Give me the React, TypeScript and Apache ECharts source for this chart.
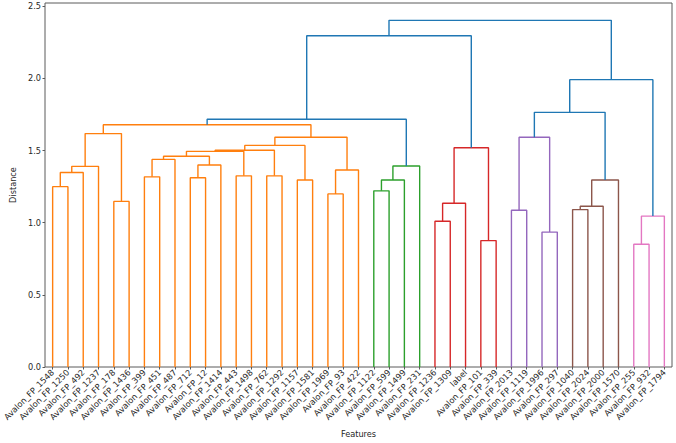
import React, { useEffect, useRef } from "react";
import * as echarts from "echarts";

// Leaves in dendrogram order (left to right)
const leafLabels = [
  "Avalon_FP_1548", "Avalon_FP_1250", "Avalon_FP_492", "Avalon_FP_1237", "Avalon_FP_178",
  "Avalon_FP_1436", "Avalon_FP_399", "Avalon_FP_451", "Avalon_FP_487", "Avalon_FP_712",
  "Avalon_FP_12", "Avalon_FP_1414", "Avalon_FP_443", "Avalon_FP_1498", "Avalon_FP_762",
  "Avalon_FP_1292", "Avalon_FP_1157", "Avalon_FP_1581", "Avalon_FP_1969", "Avalon_FP_93",
  "Avalon_FP_422", "Avalon_FP_1122", "Avalon_FP_599", "Avalon_FP_1499", "Avalon_FP_231",
  "Avalon_FP_1236", "Avalon_FP_1309", "label", "Avalon_FP_101", "Avalon_FP_339",
  "Avalon_FP_2013", "Avalon_FP_1119", "Avalon_FP_1996", "Avalon_FP_297", "Avalon_FP_1040",
  "Avalon_FP_2024", "Avalon_FP_2000", "Avalon_FP_1570", "Avalon_FP_255", "Avalon_FP_932",
  "Avalon_FP_1794",
];

// Linkage: ids < 41 are leaves, id 41 + k is the cluster formed by merge k
const linkPairs: [number, number][] = [
  [0, 1], [41, 2], [42, 3], [4, 5], [43, 44],
  [6, 7], [46, 8], [9, 10], [48, 11], [47, 49],
  [12, 13], [50, 51], [14, 15], [52, 53], [16, 17],
  [54, 55], [18, 19], [57, 20], [56, 58], [45, 59],
  [21, 22], [61, 23], [62, 24], [60, 63],
  [25, 26], [65, 27], [28, 29], [66, 67], [64, 68],
  [30, 31], [32, 33], [70, 71],
  [34, 35], [73, 36], [74, 37], [72, 75],
  [38, 39], [77, 40], [76, 78], [69, 79],
];

const linkHeights = [
  1.25, 1.348, 1.391, 1.148, 1.618,
  1.318, 1.439, 1.312, 1.4, 1.461,
  1.325, 1.495, 1.325, 1.502, 1.296,
  1.536, 1.2, 1.366, 1.593, 1.679,
  1.221, 1.296, 1.393, 1.717,
  1.01, 1.135, 0.876, 1.52, 2.296,
  1.087, 0.935, 1.593,
  1.091, 1.114, 1.296, 1.765,
  0.851, 1.046, 1.992, 2.403,
];

const linkCluster = [
  "C1", "C1", "C1", "C1", "C1",
  "C1", "C1", "C1", "C1", "C1",
  "C1", "C1", "C1", "C1", "C1",
  "C1", "C1", "C1", "C1", "C1",
  "C2", "C2", "C2", "C0",
  "C3", "C3", "C3", "C3", "C0",
  "C4", "C4", "C4",
  "C5", "C5", "C5", "C0",
  "C6", "C6", "C0", "C0",
];

const yTicks = [0, 0.5, 1.0, 1.5, 2.0, 2.5];

const clusterPalette: Record<string, string> = {
  C0: "#1f77b4",
  C1: "#ff7f0e",
  C2: "#2ca02c",
  C3: "#d62728",
  C4: "#9467bd",
  C5: "#8c564b",
  C6: "#e377c2",
};

function buildLinks() {
  const n = leafLabels.length;
  const xs: number[] = leafLabels.map((_, i) => 10 * i + 5);
  const hs: number[] = leafLabels.map(() => 0);
  const segs: { pts: number[][]; color: string }[] = [];
  linkPairs.forEach(([a, b], k) => {
    const h = linkHeights[k];
    const xa = xs[a];
    const xb = xs[b];
    segs.push({
      pts: [[xa, hs[a]], [xa, h], [xb, h], [xb, hs[b]]],
      color: clusterPalette[linkCluster[k]],
    });
    xs[n + k] = (xa + xb) / 2;
    hs[n + k] = h;
  });
  return segs;
}

export default function App() {
  const ref = useRef<HTMLDivElement>(null);

  useEffect(() => {
    if (!ref.current) return;
    const chart = echarts.init(ref.current, undefined, { renderer: "svg" });
    const n = leafLabels.length;
    const maxH = Math.max(...linkHeights);
    const font = "DejaVu Sans";
    const txt = "#262626";

    const series = buildLinks().map((s) => ({
      type: "line" as const,
      xAxisIndex: 1,
      yAxisIndex: 0,
      data: s.pts,
      showSymbol: false,
      symbol: "none",
      silent: true,
      lineStyle: { color: s.color, width: 1.4 },
    }));

    chart.setOption({
      animation: false,
      textStyle: { fontFamily: font },
      grid: {
        left: 45,
        right: 4,
        top: 3,
        bottom: 69,
        show: true,
        borderColor: "#5a5a5a",
        borderWidth: 1,
        backgroundColor: "transparent",
      },
      xAxis: [
        {
          type: "category",
          data: leafLabels,
          boundaryGap: true,
          name: "Features",
          nameLocation: "middle",
          nameGap: 63,
          nameTextStyle: { fontFamily: font, fontSize: 8.2, color: txt },
          axisLine: { show: false },
          axisTick: { show: true, alignWithLabel: true, length: 2.5, lineStyle: { color: "#5a5a5a" } },
          axisLabel: {
            interval: 0,
            rotate: 45,
            margin: 4,
            fontFamily: font,
            fontSize: 8.3,
            color: txt,
          },
          splitLine: { show: false },
        },
        {
          type: "value",
          min: 0,
          max: 10 * n,
          show: false,
          splitLine: { show: false },
        },
      ],
      yAxis: {
        type: "value",
        min: 0,
        max: maxH * 1.05,
        name: "Distance",
        nameLocation: "middle",
        nameGap: 25,
        nameRotate: 90,
        nameTextStyle: { fontFamily: font, fontSize: 8.2, color: txt },
        axisLine: { show: false },
        axisTick: {
          show: true,
          length: 2.5,
          customValues: yTicks,
          lineStyle: { color: "#5a5a5a" },
        },
        axisLabel: {
          customValues: yTicks,
          formatter: (v: number) => v.toFixed(1),
          fontFamily: font,
          fontSize: 8.2,
          color: txt,
          margin: 4,
        },
        splitLine: { show: false },
      },
      series,
    });

    return () => chart.dispose();
  }, []);

  return (
    <div
      ref={ref}
      style={{ position: "fixed", left: 0, top: 0, width: 676, height: 443, background: "#fff" }}
    />
  );
}
